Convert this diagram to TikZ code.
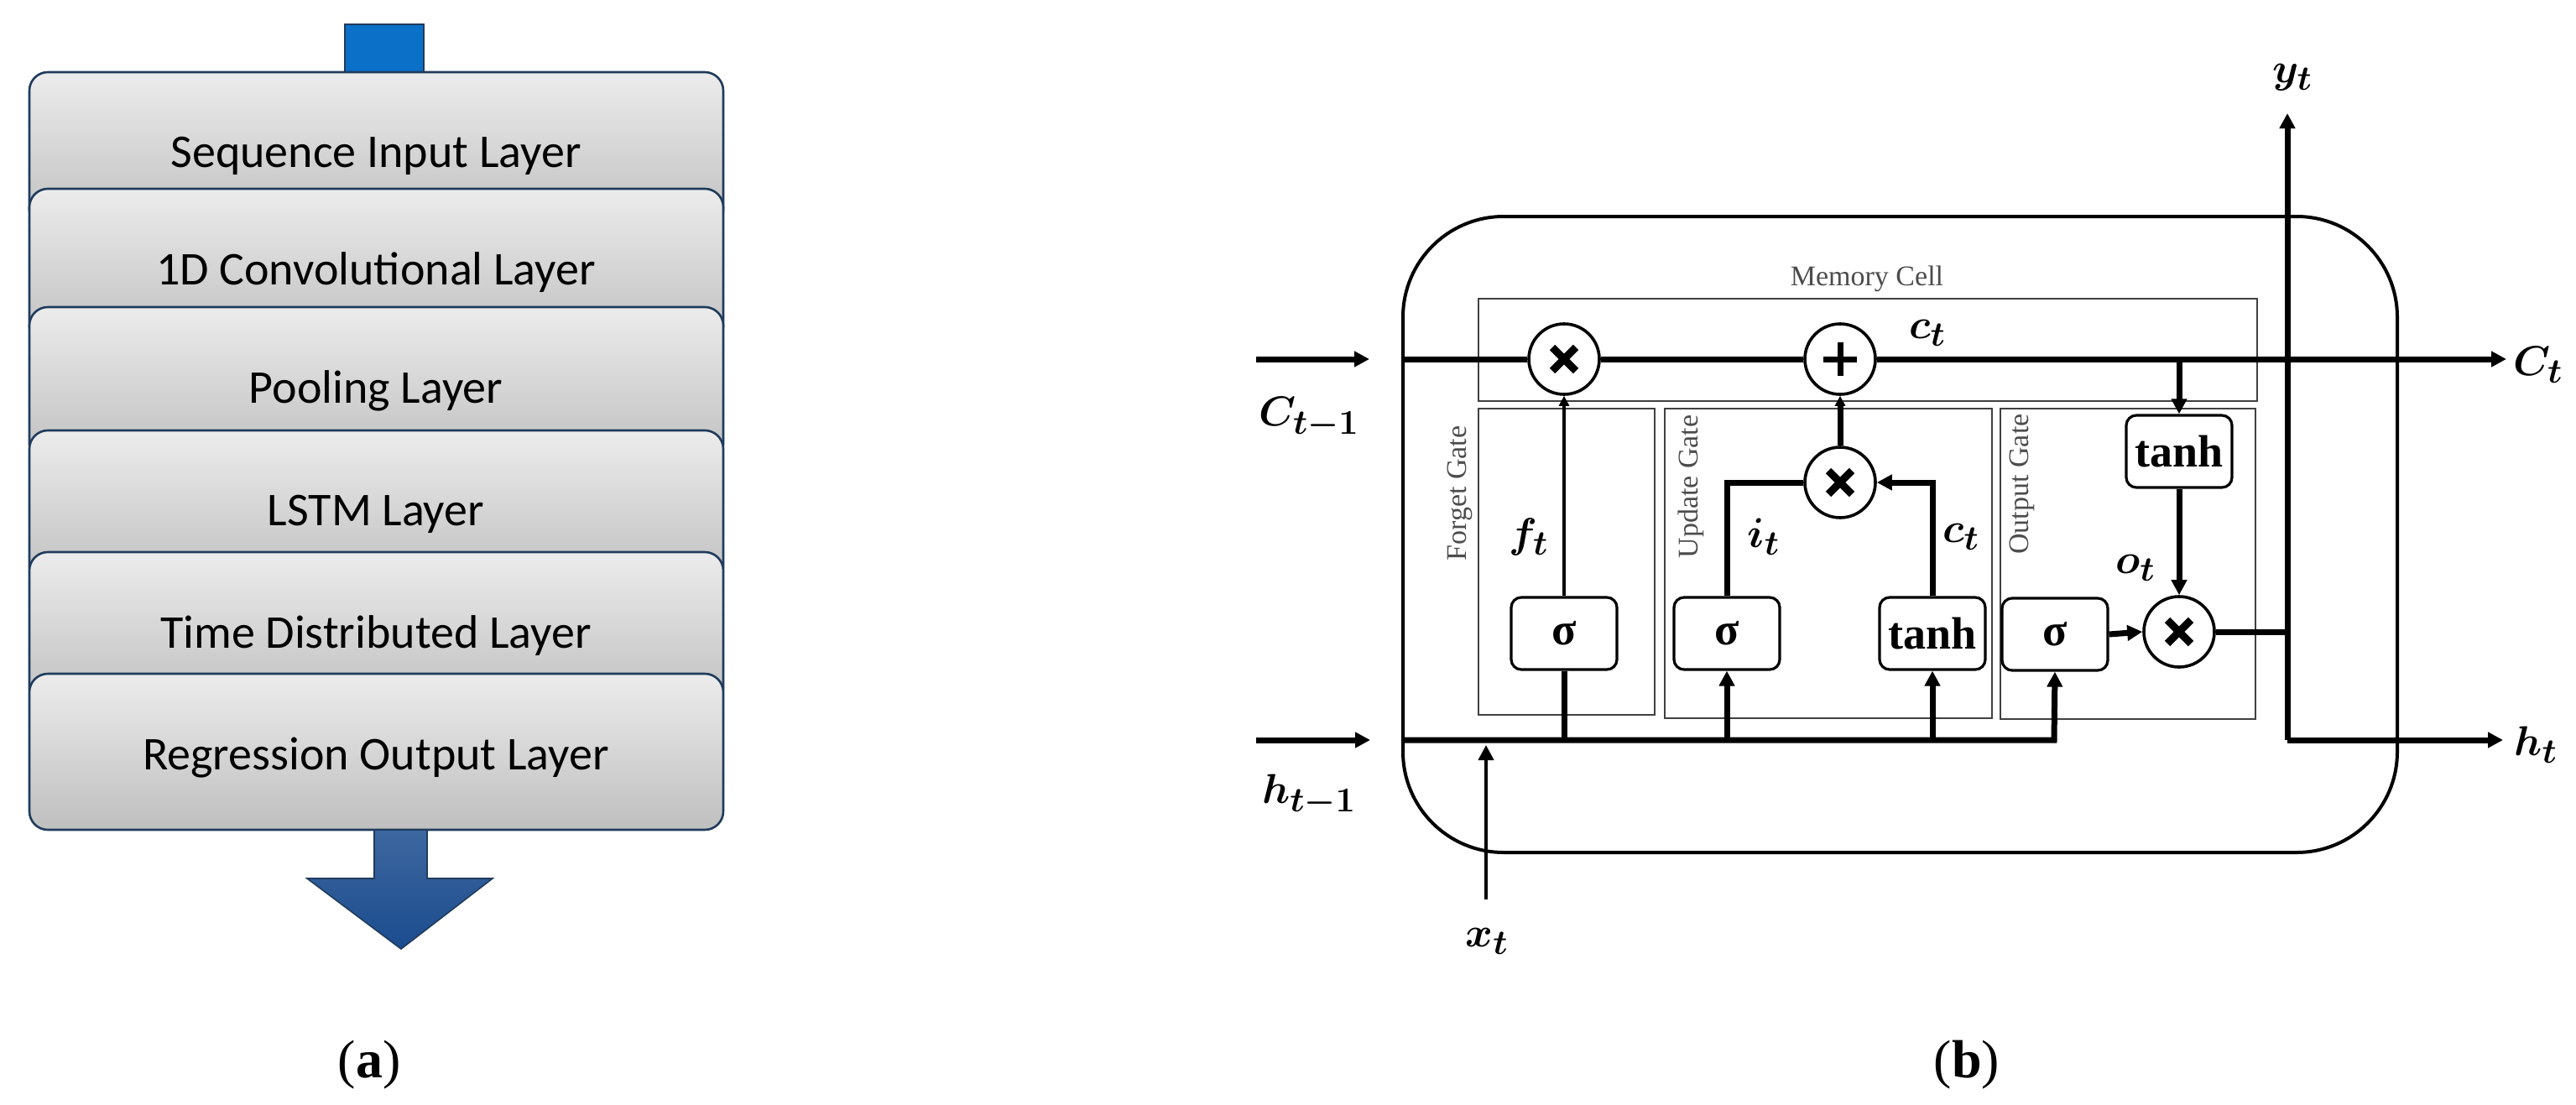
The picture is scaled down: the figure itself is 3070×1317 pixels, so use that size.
\documentclass[tikz,border=0pt]{standalone}
\usepackage{amsmath,bm}
\usepackage{fontspec}
\setmainfont{Carlito}
\newfontfamily\gserif{Liberation Serif}
\usetikzlibrary{arrows.meta}
\definecolor{navy}{HTML}{1F3B5C}
\definecolor{bright}{HTML}{0A70C8}
\definecolor{dblue}{HTML}{1B4C8E}
\tikzset{
  layer/.style={draw=navy,line width=1.3pt,rounded corners=11pt,top color=gray!15,bottom color=gray!50},
  ltext/.style={font=\fontsize{28}{32}\selectfont},
  gate/.style={draw=black!75,line width=0.7pt},
  gtext/.style={font=\gserif\fontsize{17}{19}\selectfont,text=black!70},
  op/.style={circle,draw,line width=1.8pt,minimum size=42pt,inner sep=0pt,fill=white},
  act/.style={draw,line width=1.6pt,rounded corners=6pt,minimum width=63pt,minimum height=43pt,inner sep=0pt,fill=white,font=\gserif\bfseries\fontsize{27}{30}\selectfont},
  thick line/.style={line width=3.5pt},
  mid line/.style={line width=2pt},
  tip/.style={-{Triangle[length=9pt,width=9pt]}},
  stip/.style={-{Triangle[length=6pt,width=6pt]}},
  mlab/.style={font=\fontsize{29}{32}\selectfont},
  capt/.style={font=\gserif\fontsize{32}{36}\selectfont},
  cross/.style={path picture={\draw[line width=4.5pt] ([shift={(-7pt,-7pt)}]path picture bounding box.center) -- ([shift={(7pt,7pt)}]path picture bounding box.center);
      \draw[line width=4.5pt] ([shift={(-7pt,7pt)}]path picture bounding box.center) -- ([shift={(7pt,-7pt)}]path picture bounding box.center);}},
  plus/.style={path picture={\draw[line width=3.5pt] ([shift={(-10pt,0pt)}]path picture bounding box.center) -- ([shift={(10pt,0pt)}]path picture bounding box.center);
      \draw[line width=3.5pt] ([shift={(0pt,-10pt)}]path picture bounding box.center) -- ([shift={(0pt,10pt)}]path picture bounding box.center);}}
}
\begin{document}
\begin{tikzpicture}[x=0.5pt,y=-0.5pt]
\useasboundingbox (0,0) rectangle (3070,1317);
% ---------- (a) ----------
\fill[bright,draw=navy,line width=0.8pt] (411,29) rectangle (505,100);
\foreach \t/\txt [count=\i] in {86/Sequence Input Layer,225/1D Convolutional Layer,366/Pooling Layer,513/LSTM Layer,658/Time Distributed Layer,803/Regression Output Layer}{
  \draw[layer] (35,\t) rectangle (862,\t+186);
  \node[ltext] (L\i) at (448,\t+100) {\txt};
}
\shade[top color=dblue!85,bottom color=dblue,draw=navy,line width=0.8pt] (446,989) -- (446,1047) -- (366,1047) -- (478,1131) -- (587,1047) -- (509,1047) -- (509,989) -- cycle;
\node[capt] (capa) at (440,1269) {(\textbf{a})};
% ---------- (b) ----------
\draw[line width=2pt,rounded corners=60pt] (1672,258) rectangle (2857,1016);
\draw[gate] (1762,356) rectangle (2690,478);
\node[gtext] (mc) at (2225,332) {Memory Cell};
\draw[gate] (1762,487) rectangle (1972,852);
\draw[gate] (1984,487) rectangle (2374,856);
\draw[gate] (2384,487) rectangle (2688,857);
\node[gtext,rotate=90] (fg) at (1740,588) {Forget Gate};
\node[gtext,rotate=90] (ug) at (2015,580) {Update Gate};
\node[gtext,rotate=90] (og) at (2410,577) {Output Gate};

\node[op,cross] (m1) at (1864,428) {};
\node[op,plus] (pl) at (2193,428) {};
\node[op,cross] (m2) at (2193,575) {};
\node[op,cross] (m3) at (2597,753) {};
\node[act] (s1) at (1864,755) {σ};
\node[act] (s2) at (2058,755) {σ};
\node[act] (t1) at (2303,755) {tanh};
\node[act] (s3) at (2449,756) {σ};
\node[act] (t2) at (2597,538) {tanh};

\coordinate (cin0) at (1497,428); \coordinate (cin1) at (1632,428);
\coordinate (cl) at (1672,428); \coordinate (cout) at (2987,428);
\coordinate (hin0) at (1497,882); \coordinate (hin1) at (1633,882);
\coordinate (hl) at (1672,882); \coordinate (hr) at (2448,882);
\coordinate (yb) at (2726,882); \coordinate (yt) at (2726,135);
\coordinate (hout) at (2983,882);
\coordinate (x0) at (1771,1072); \coordinate (x1) at (1771,888);

\draw[thick line,tip] (cin0) -- (cin1);
\draw[thick line] (cl) -- (m1.west);
\draw[thick line] (m1.east) -- (pl.west);
\draw[thick line,tip] (pl.east) -- (cout);
\draw[thick line,tip] (t2.north |- cl) -- (t2.north);
\draw[thick line,tip] (t2.south) -- (m3.north);
\draw[thick line,tip] (s3.east) -- (m3.west);
\draw[thick line] (m3.east) -- (m3.east -| yt);
\draw[thick line,tip] (yb) -- (yt);
\draw[thick line,tip] (yb) -- (hout);
\draw[thick line,tip] (hin0) -- (hin1);
\draw[thick line,tip] (hl) -- (hr) -- (s3.south);
\draw[thick line] (s1.south |- hl) -- (s1.south);
\draw[thick line,tip] (s2.south |- hl) -- (s2.south);
\draw[thick line,tip] (t1.south |- hl) -- (t1.south);
\draw[mid line,stip] (s1.north) -- (m1.south);
\draw[thick line] (s2.north) |- (m2.west);
\draw[thick line,tip] (t1.north) |- (m2.east);
\draw[thick line,stip] (m2.north) -- (pl.south);
\draw[mid line,tip] (x0) -- (x1);

\node[mlab] (lcm) at (1560,498) {$\bm{C_{t-1}}$};
\node[mlab] (lhm) at (1560,948) {$\bm{h_{t-1}}$};
\node[mlab] (lct) at (3025,435) {$\bm{C_t}$};
\node[mlab] (lht) at (3022,888) {$\bm{h_t}$};
\node[mlab] (lyt) at (2732,92) {$\bm{y_t}$};
\node[mlab] (lxt) at (1772,1122) {$\bm{x_t}$};
\node[mlab] (lft) at (1822,640) {$\bm{f_t}$};
\node[mlab] (lit) at (2102,640) {$\bm{i_t}$};
\node[mlab] (lc2) at (2337,640) {$\bm{c_t}$};
\node[mlab] (lot) at (2545,677) {$\bm{o_t}$};
\node[mlab] (lc1) at (2297,397) {$\bm{c_t}$};
\node[capt] (capb) at (2344,1269) {(\textbf{b})};
\end{tikzpicture}
\end{document}
